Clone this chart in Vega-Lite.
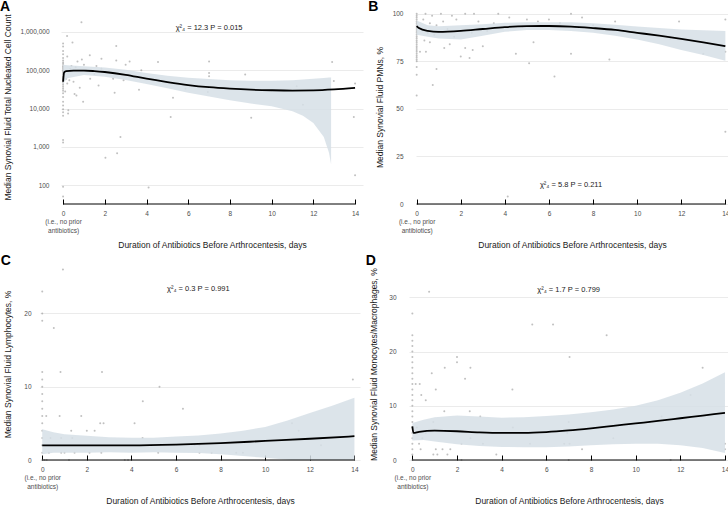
{
  "$schema": "https://vega.github.io/schema/vega-lite/v6.json",
  "padding": {"left": -6, "top": 0, "right": 0, "bottom": 0},
  "background": "white",
  "config": {
    "view": {"stroke": null},
    "font": "Liberation Sans",
    "axis": {"labelFont": "Liberation Sans", "titleFont": "Liberation Sans", "labelFontSize": 6.5, "labelColor": "#4d4d4d", "titleFontSize": 8.5, "titleFontWeight": "normal", "titleColor": "#1a1a1a", "labelOverlap": false},
    "axisX": {"grid": false, "domain": false, "tickColor": "#000000", "tickWidth": 1, "tickSize": -5, "labelPadding": 11, "titlePadding": 7, "labelLineHeight": 8.5, "labelFlush": false},
    "axisY": {"domain": false, "ticks": false, "grid": true, "gridColor": "#ebebeb", "gridWidth": 1, "titlePadding": 8},
    "title": {"font": "Liberation Sans", "fontSize": 14, "fontWeight": "bold", "color": "#000000", "anchor": "start", "frame": "bounds", "offset": -4}
  },
  "datasets": {
    "A_pts": [
      {"x":0,"y":500000},{"x":0,"y":420000},{"x":0,"y":320000},{"x":0,"y":260000},{"x":0,"y":210000},{"x":0,"y":180000},{"x":0,"y":160000},{"x":0,"y":145000},{"x":0,"y":130000},{"x":0,"y":120000},{"x":0,"y":110000},{"x":0,"y":100000},{"x":0,"y":92000},{"x":0,"y":85000},{"x":0,"y":78000},{"x":0,"y":70000},{"x":0,"y":64000},{"x":0,"y":58000},{"x":0,"y":52000},{"x":0,"y":47000},{"x":0,"y":42000},{"x":0,"y":37000},{"x":0,"y":33000},{"x":0,"y":29000},{"x":0,"y":25000},{"x":0,"y":20000},{"x":0,"y":15000},{"x":0,"y":12000},{"x":0,"y":9500},{"x":0,"y":8000},{"x":0,"y":6500},{"x":0,"y":1500},{"x":0,"y":1300},{"x":0,"y":90},{"x":0,"y":50},
      {"x":0.88,"y":1800000},{"x":0.19,"y":780000},{"x":0.45,"y":530000},{"x":2.55,"y":430000},{"x":1.28,"y":245000},{"x":0.9,"y":190000},{"x":0.69,"y":170000},{"x":1.84,"y":200000},{"x":2.55,"y":180000},{"x":3.19,"y":170000},{"x":4.55,"y":165000},{"x":7.0,"y":170000},{"x":12.9,"y":165000},{"x":3.75,"y":100000},{"x":1.84,"y":110000},{"x":2.2,"y":95000},{"x":7.0,"y":85000},{"x":7.0,"y":70000},{"x":8.73,"y":77000},{"x":12.98,"y":52000},{"x":14,"y":45000},{"x":11.2,"y":38000},{"x":5.87,"y":33000},{"x":6.94,"y":27000},{"x":3.64,"y":31000},{"x":2.47,"y":26000},{"x":0.64,"y":22000},{"x":0.96,"y":15000},{"x":5.27,"y":19000},{"x":11.5,"y":12600},{"x":0.24,"y":7400},{"x":5.16,"y":6000},{"x":9.02,"y":5700},{"x":13.94,"y":6000},{"x":2.75,"y":1800},{"x":2.03,"y":520},{"x":2.59,"y":680},{"x":4.1,"y":87},{"x":14,"y":180},
      {"x":0.15,"y":60000},{"x":0.3,"y":55000},{"x":0.5,"y":50000},{"x":0.4,"y":130000},{"x":0.6,"y":120000},{"x":1.0,"y":140000},{"x":1.1,"y":100000},{"x":1.5,"y":80000},{"x":1.6,"y":130000},{"x":0.2,"y":45000},{"x":0.35,"y":110000},{"x":1.3,"y":60000},{"x":2.4,"y":60000},{"x":3.0,"y":140000},{"x":2.9,"y":55000},{"x":1.7,"y":40000},{"x":0.8,"y":35000},{"x":0.1,"y":28000},{"x":0.25,"y":9000},{"x":0.55,"y":24000},{"x":0.2,"y":230000}
    ],
    "A_fit": [
      {"x":0,"fit":50000},{"x":0.05,"fit":88000},{"x":0.15,"fit":95000},{"x":0.5,"fit":98000},{"x":1,"fit":98000},{"x":1.5,"fit":95000},{"x":2,"fit":90000},{"x":3,"fit":76000},{"x":4,"fit":60000},{"x":5,"fit":49000},{"x":6,"fit":41000},{"x":7,"fit":36000},{"x":8,"fit":33000},{"x":9,"fit":31000},{"x":10,"fit":30000},{"x":11,"fit":29500},{"x":12,"fit":29800},{"x":13,"fit":31500},{"x":14,"fit":34500}
    ],
    "A_band": [
      {"x":0,"lo":45000,"hi":140000},{"x":0.2,"lo":62000,"hi":135000},{"x":1,"lo":75000,"hi":128000},{"x":2,"lo":68000,"hi":118000},{"x":3,"lo":56000,"hi":103000},{"x":4,"lo":44000,"hi":85000},{"x":5,"lo":34000,"hi":72000},{"x":6,"lo":26000,"hi":64000},{"x":7,"lo":20500,"hi":59000},{"x":8,"lo":16500,"hi":55000},{"x":9,"lo":13500,"hi":53000},{"x":10,"lo":11500,"hi":53000},{"x":10.45,"lo":10000,"hi":54000},{"x":11,"lo":8500,"hi":55000},{"x":11.5,"lo":6500,"hi":57000},{"x":12,"lo":4200,"hi":60000},{"x":12.5,"lo":1800,"hi":63000},{"x":12.75,"lo":700,"hi":64500},{"x":12.85,"lo":350,"hi":65000}
    ],
    "B_pts": [
      {"x":0,"y":100},{"x":0,"y":99},{"x":0,"y":98},{"x":0,"y":97},{"x":0,"y":96},{"x":0,"y":95},{"x":0,"y":94},{"x":0,"y":93},{"x":0,"y":92},{"x":0,"y":91},{"x":0,"y":90},{"x":0,"y":89},{"x":0,"y":88},{"x":0,"y":87},{"x":0,"y":86},{"x":0,"y":85},{"x":0,"y":84},{"x":0,"y":83},{"x":0,"y":82},{"x":0,"y":81},{"x":0,"y":80},{"x":0,"y":79},{"x":0,"y":78},{"x":0,"y":77},{"x":0,"y":76},{"x":0,"y":75},{"x":0,"y":72},{"x":0,"y":68},{"x":0,"y":57},
      {"x":0.73,"y":62.6},{"x":0.9,"y":71},{"x":6.25,"y":67},{"x":4.13,"y":4},{"x":14,"y":38},{"x":14,"y":80},{"x":14,"y":97},{"x":13,"y":79},{"x":11.5,"y":86.7},{"x":11.9,"y":96},{"x":8.74,"y":76},{"x":7.0,"y":79},{"x":5.1,"y":74},{"x":4.5,"y":79},{"x":5.3,"y":85},{"x":2.54,"y":81},{"x":2.2,"y":82},{"x":2.0,"y":77.5},{"x":1.25,"y":82},{"x":0.42,"y":80},{"x":0.15,"y":80},{"x":2.4,"y":76.7},
      {"x":0.4,"y":100},{"x":0.7,"y":99},{"x":1.1,"y":100},{"x":1.6,"y":99},{"x":2.2,"y":100},{"x":2.6,"y":100},{"x":3.7,"y":100},{"x":7.0,"y":100},{"x":7.5,"y":98},{"x":0.3,"y":97},{"x":0.6,"y":95},{"x":0.9,"y":94},{"x":1.2,"y":96},{"x":1.8,"y":97},{"x":2.8,"y":96},{"x":3.5,"y":95},{"x":4.2,"y":98},{"x":5.0,"y":97},{"x":6.0,"y":97},{"x":9.0,"y":96},{"x":0.2,"y":92},{"x":0.5,"y":90},{"x":0.8,"y":89},{"x":1.0,"y":91},{"x":1.4,"y":92},{"x":1.7,"y":88},{"x":2.5,"y":90},{"x":3.2,"y":91},{"x":4.8,"y":93},{"x":5.5,"y":96},{"x":6.5,"y":95},{"x":7.2,"y":93},{"x":8.0,"y":94},{"x":0.35,"y":86},{"x":0.6,"y":85},{"x":1.5,"y":84},{"x":3.0,"y":83}
    ],
    "B_fit": [
      {"x":0,"fit":93.5},{"x":0.1,"fit":92.5},{"x":0.5,"fit":91},{"x":1,"fit":90.5},{"x":2,"fit":91},{"x":3,"fit":92},{"x":4,"fit":93},{"x":5,"fit":93.5},{"x":6,"fit":93.6},{"x":7,"fit":93.3},{"x":8,"fit":92.5},{"x":9,"fit":91.5},{"x":10,"fit":90},{"x":11,"fit":88.5},{"x":12,"fit":86.8},{"x":13,"fit":85},{"x":14,"fit":83}
    ],
    "B_band": [
      {"x":0,"lo":89,"hi":96.5},{"x":0.5,"lo":88,"hi":94},{"x":1,"lo":87,"hi":93.5},{"x":2,"lo":86.5,"hi":94},{"x":3,"lo":88.5,"hi":94.5},{"x":4,"lo":90.5,"hi":95.3},{"x":5,"lo":91.5,"hi":95.5},{"x":6,"lo":91.5,"hi":95.6},{"x":7,"lo":91,"hi":95.5},{"x":8,"lo":90,"hi":95},{"x":9,"lo":88.5,"hi":94.3},{"x":10,"lo":86.5,"hi":93.3},{"x":11,"lo":84,"hi":92.5},{"x":12,"lo":81,"hi":91.8},{"x":13,"lo":78.3,"hi":91.3},{"x":14,"lo":75.3,"hi":91}
    ],
    "C_pts": [
      {"x":0,"y":23},{"x":0,"y":20},{"x":0,"y":19},{"x":0,"y":12},{"x":0,"y":11},{"x":0,"y":10},{"x":0,"y":9},{"x":0,"y":8},{"x":0,"y":7},{"x":0,"y":6},{"x":0,"y":5},{"x":0,"y":4},{"x":0,"y":3},{"x":0,"y":2},{"x":0,"y":1},{"x":0,"y":0},
      {"x":0.93,"y":26},{"x":0.52,"y":18},{"x":0.82,"y":12},{"x":2.68,"y":12},{"x":1.75,"y":6},{"x":0.78,"y":6},{"x":0.18,"y":6},{"x":5.26,"y":10},{"x":4.51,"y":8},{"x":6.31,"y":7},{"x":4.14,"y":5},{"x":2.6,"y":5},{"x":2.75,"y":5},{"x":13.93,"y":11},{"x":11.2,"y":5},{"x":11.5,"y":4},{"x":12.5,"y":2},{"x":1.3,"y":4},{"x":2.35,"y":4},{"x":2.0,"y":4},{"x":4.5,"y":3},{"x":0.85,"y":3},{"x":0.37,"y":3},{"x":1.35,"y":3},
      {"x":0.85,"y":1},{"x":1.0,"y":1},{"x":1.45,"y":1},{"x":2.12,"y":1},{"x":2.65,"y":1},{"x":5.2,"y":1},{"x":7.6,"y":1},{"x":8.7,"y":1},{"x":9.0,"y":1},{"x":7.05,"y":1},{"x":0.3,"y":1},{"x":0.2,"y":0},{"x":1.2,"y":0},{"x":3.7,"y":0},{"x":3.85,"y":0},{"x":6.83,"y":2},{"x":7.05,"y":2},{"x":0.1,"y":0}
    ],
    "C_fit": [
      {"x":0,"fit":2.0},{"x":2,"fit":2.0},{"x":4,"fit":2.0},{"x":6,"fit":2.1},{"x":8,"fit":2.3},{"x":10,"fit":2.6},{"x":12,"fit":2.9},{"x":14,"fit":3.25}
    ],
    "C_band": [
      {"x":0,"lo":0.8,"hi":4.2},{"x":0.5,"lo":1.0,"hi":3.8},{"x":1,"lo":1.0,"hi":3.5},{"x":2,"lo":1.0,"hi":3.3},{"x":3,"lo":1.05,"hi":3.1},{"x":4,"lo":1.0,"hi":3.05},{"x":5,"lo":1.05,"hi":3.05},{"x":6,"lo":1.0,"hi":3.2},{"x":7,"lo":0.95,"hi":3.35},{"x":8,"lo":0.8,"hi":3.6},{"x":9,"lo":0.55,"hi":4.0},{"x":10,"lo":0.3,"hi":4.5},{"x":11,"lo":0.05,"hi":5.4},{"x":11.2,"lo":0,"hi":5.6},{"x":12,"lo":0,"hi":6.4},{"x":13,"lo":0,"hi":7.4},{"x":14,"lo":0,"hi":8.5}
    ],
    "D_pts": [
      {"x":0,"y":27},{"x":0,"y":23},{"x":0,"y":22},{"x":0,"y":21},{"x":0,"y":20},{"x":0,"y":19},{"x":0,"y":18},{"x":0,"y":17},{"x":0,"y":16},{"x":0,"y":15},{"x":0,"y":14},{"x":0,"y":13},{"x":0,"y":12},{"x":0,"y":11},{"x":0,"y":10},{"x":0,"y":9},{"x":0,"y":8},{"x":0,"y":7},{"x":0,"y":6},{"x":0,"y":5},{"x":0,"y":4},{"x":0,"y":3},{"x":0,"y":2},{"x":0,"y":1},{"x":0,"y":0},
      {"x":0.75,"y":31},{"x":5.37,"y":25},{"x":6.3,"y":25},{"x":8.7,"y":23},{"x":7.04,"y":19},{"x":2.0,"y":19},{"x":2.0,"y":18},{"x":2.6,"y":17},{"x":1.45,"y":17},{"x":2.36,"y":15},{"x":13.0,"y":17},{"x":0.87,"y":16},{"x":0.33,"y":14},{"x":0.15,"y":14},{"x":0.6,"y":11},{"x":0.4,"y":12},{"x":4.48,"y":13},{"x":1.05,"y":13},{"x":1.43,"y":9},{"x":2.57,"y":9},{"x":12.46,"y":12},{"x":11.16,"y":8},{"x":3.04,"y":8},{"x":7.0,"y":7},{"x":4.5,"y":6},{"x":0.94,"y":7},{"x":6.94,"y":5},{"x":9.0,"y":4},{"x":2.6,"y":4},{"x":3.16,"y":3},{"x":5.27,"y":3},{"x":6.8,"y":3},{"x":7.04,"y":3},{"x":2.2,"y":3},{"x":0.3,"y":3},{"x":0.45,"y":4},{"x":0.37,"y":2},{"x":1.05,"y":2},{"x":1.35,"y":2},{"x":1.7,"y":2},{"x":3.76,"y":1},{"x":0.94,"y":1},{"x":1.12,"y":1},{"x":1.57,"y":1},{"x":11.57,"y":0},{"x":7.6,"y":2},{"x":14,"y":3},{"x":14,"y":2},{"x":7.0,"y":0},{"x":2.2,"y":0},{"x":0.2,"y":6},{"x":0.6,"y":5}
    ],
    "D_fit": [
      {"x":0,"fit":6.2},{"x":0.05,"fit":5.0},{"x":0.3,"fit":5.2},{"x":1,"fit":5.4},{"x":2,"fit":5.3},{"x":3,"fit":5.1},{"x":4,"fit":5.0},{"x":5,"fit":5.0},{"x":6,"fit":5.15},{"x":7,"fit":5.45},{"x":8,"fit":5.85},{"x":9,"fit":6.3},{"x":10,"fit":6.75},{"x":11,"fit":7.2},{"x":12,"fit":7.7},{"x":13,"fit":8.2},{"x":14,"fit":8.7}
    ],
    "D_band": [
      {"x":0,"lo":3.6,"hi":6.8},{"x":0.5,"lo":3.7,"hi":7.4},{"x":1,"lo":3.4,"hi":7.9},{"x":2,"lo":2.9,"hi":8.2},{"x":3,"lo":2.6,"hi":8.0},{"x":4,"lo":2.4,"hi":7.8},{"x":5,"lo":2.35,"hi":7.9},{"x":6,"lo":2.35,"hi":8.1},{"x":7,"lo":2.5,"hi":8.4},{"x":8,"lo":2.7,"hi":8.8},{"x":9,"lo":2.9,"hi":9.3},{"x":10,"lo":3.0,"hi":10.0},{"x":11,"lo":3.0,"hi":11.0},{"x":12,"lo":2.7,"hi":12.4},{"x":13,"lo":2.2,"hi":14.1},{"x":14,"lo":1.3,"hi":16.2}
    ],
    "notes": [
      {"panel":"A","t":"χ²₄ = 12.3  P = 0.015"},
      {"panel":"B","t":"χ²₄ = 5.8  P = 0.211"},
      {"panel":"C","t":"χ²₄ = 0.3  P = 0.991"},
      {"panel":"D","t":"χ²₄ = 1.7  P = 0.799"}
    ],
    "xline": [{"from": 0, "to": 14}]
  },
  "spacing": 4,
  "vconcat": [
    {
      "spacing": 5,
      "hconcat": [
        {"width": 1, "height": 1, "data": {"values": []}, "mark": {"type": "point", "opacity": 0}},
        {
          "width": 302, "height": 194,
          "title": {"text": "A", "dx": -3},
          "layer": [
            {"data": {"name": "A_pts"}, "mark": {"type": "circle", "size": 4, "color": "#8c8c8c", "opacity": 0.55},
             "encoding": {
               "x": {"field": "x", "type": "quantitative", "scale": {"domain": [-0.1, 14.38], "nice": false, "zero": false},
                     "axis": {"values": [0,2,4,6,8,10,12,14], "labelExpr": "datum.value == 0 ? ['0','(i.e., no prior','antibiotics)'] : datum.label", "title": "Duration of Antibiotics Before Arthrocentesis, days"}},
               "y": {"field": "y", "type": "quantitative", "scale": {"type": "log", "domain": [32, 3750000], "nice": false},
                     "axis": {"values": [100, 1000, 10000, 100000, 1000000], "format": ",", "labelPadding": 12, "labelOverlap": false, "title": "Median Synovial Fluid Total Nucleated Cell Count"}}
             }},
            {"data": {"name": "A_band"}, "mark": {"type": "area", "color": "#d6dfe6", "opacity": 0.85},
             "encoding": {"x": {"field": "x", "type": "quantitative"}, "y": {"field": "lo", "type": "quantitative"}, "y2": {"field": "hi"}}},
            {"data": {"name": "A_fit"}, "mark": {"type": "line", "color": "#000000", "strokeWidth": 1.8, "interpolate": "monotone"},
             "encoding": {"x": {"field": "x", "type": "quantitative"}, "y": {"field": "fit", "type": "quantitative"}}},
            {"data": {"name": "xline"}, "mark": {"type": "rule", "color": "#000000", "strokeWidth": 1},
             "encoding": {"x": {"field": "from", "type": "quantitative"}, "x2": {"field": "to"}, "y": {"datum": 32}}},
            {"data": {"name": "notes"}, "transform": [{"filter": "datum.panel == 'A'"}],
             "mark": {"type": "text", "fontSize": 7.5, "color": "#1a1a1a", "baseline": "middle"},
             "encoding": {"x": {"datum": 7}, "y": {"datum": 1250000}, "text": {"field": "t"}}}
          ]
        },
        {
          "width": 312, "height": 194,
          "title": {"text": "B", "dx": -7.5},
          "layer": [
            {"data": {"name": "B_pts"}, "mark": {"type": "circle", "size": 4, "color": "#8c8c8c", "opacity": 0.55},
             "encoding": {
               "x": {"field": "x", "type": "quantitative", "scale": {"domain": [-0.03, 14.12], "nice": false, "zero": false},
                     "axis": {"values": [0,2,4,6,8,10,12,14], "labelExpr": "datum.value == 0 ? ['0','(i.e., no prior','antibiotics)'] : datum.label", "title": "Duration of Antibiotics Before Arthrocentesis, days"}},
               "y": {"field": "y", "type": "quantitative", "scale": {"domain": [0, 102], "nice": false},
                     "axis": {"values": [0, 25, 50, 75, 100], "labelPadding": 13, "titlePadding": 7.5, "labelOverlap": false, "title": "Median Synovial Fluid PMNs, %"}}
             }},
            {"data": {"name": "B_band"}, "mark": {"type": "area", "color": "#d6dfe6", "opacity": 0.85},
             "encoding": {"x": {"field": "x", "type": "quantitative"}, "y": {"field": "lo", "type": "quantitative"}, "y2": {"field": "hi"}}},
            {"data": {"name": "B_fit"}, "mark": {"type": "line", "color": "#000000", "strokeWidth": 1.8, "interpolate": "monotone"},
             "encoding": {"x": {"field": "x", "type": "quantitative"}, "y": {"field": "fit", "type": "quantitative"}}},
            {"data": {"name": "xline"}, "mark": {"type": "rule", "color": "#000000", "strokeWidth": 1},
             "encoding": {"x": {"field": "from", "type": "quantitative"}, "x2": {"field": "to"}, "y": {"datum": 0}}},
            {"data": {"name": "notes"}, "transform": [{"filter": "datum.panel == 'B'"}],
             "mark": {"type": "text", "fontSize": 7.5, "color": "#1a1a1a", "baseline": "middle"},
             "encoding": {"x": {"datum": 7}, "y": {"datum": 10}, "text": {"field": "t"}}}
          ]
        }
      ]
    },
    {
      "spacing": 5,
      "hconcat": [
        {"width": 1, "height": 1, "data": {"values": []}, "mark": {"type": "point", "opacity": 0}},
        {
          "width": 320, "height": 192,
          "title": {"text": "C", "dx": -3, "offset": 0},
          "layer": [
            {"data": {"name": "C_pts"}, "mark": {"type": "circle", "size": 4, "color": "#8c8c8c", "opacity": 0.55},
             "encoding": {
               "x": {"field": "x", "type": "quantitative", "scale": {"domain": [-0.1, 14.25], "nice": false, "zero": false},
                     "axis": {"values": [0,2,4,6,8,10,12,14], "labelExpr": "datum.value == 0 ? ['0','(i.e., no prior','antibiotics)'] : datum.label", "title": "Duration of Antibiotics Before Arthrocentesis, days"}},
               "y": {"field": "y", "type": "quantitative", "scale": {"domain": [0, 26.2], "nice": false},
                     "axis": {"values": [0, 5, 10, 15, 20, 25], "labelPadding": 9, "titlePadding": 11, "labelOverlap": false, "title": "Median Synovial Fluid Lymphocytes, %"}}
             }},
            {"data": {"name": "C_band"}, "mark": {"type": "area", "color": "#d6dfe6", "opacity": 0.85},
             "encoding": {"x": {"field": "x", "type": "quantitative"}, "y": {"field": "lo", "type": "quantitative"}, "y2": {"field": "hi"}}},
            {"data": {"name": "C_fit"}, "mark": {"type": "line", "color": "#000000", "strokeWidth": 1.8, "interpolate": "monotone"},
             "encoding": {"x": {"field": "x", "type": "quantitative"}, "y": {"field": "fit", "type": "quantitative"}}},
            {"data": {"name": "xline"}, "mark": {"type": "rule", "color": "#000000", "strokeWidth": 1},
             "encoding": {"x": {"field": "from", "type": "quantitative"}, "x2": {"field": "to"}, "y": {"datum": 0}}},
            {"data": {"name": "notes"}, "transform": [{"filter": "datum.panel == 'C'"}],
             "mark": {"type": "text", "fontSize": 7.5, "color": "#1a1a1a", "baseline": "middle"},
             "encoding": {"x": {"datum": 7}, "y": {"datum": 23.3}, "text": {"field": "t"}}}
          ]
        },
        {
          "width": 320, "height": 192,
          "title": {"text": "D", "dx": -4, "offset": 0},
          "layer": [
            {"data": {"name": "D_pts"}, "mark": {"type": "circle", "size": 4, "color": "#8c8c8c", "opacity": 0.55},
             "encoding": {
               "x": {"field": "x", "type": "quantitative", "scale": {"domain": [-0.15, 14.18], "nice": false, "zero": false},
                     "axis": {"values": [0,2,4,6,8,10,12,14], "labelExpr": "datum.value == 0 ? ['0','(i.e., no prior','antibiotics)'] : datum.label", "title": "Duration of Antibiotics Before Arthrocentesis, days"}},
               "y": {"field": "y", "type": "quantitative", "scale": {"domain": [0, 35.4], "nice": false},
                     "axis": {"values": [0, 10, 20, 30], "labelPadding": 13, "titlePadding": 10, "labelOverlap": false, "title": "Median Synovial Fluid Monocytes/Macrophages, %"}}
             }},
            {"data": {"name": "D_band"}, "mark": {"type": "area", "color": "#d6dfe6", "opacity": 0.85},
             "encoding": {"x": {"field": "x", "type": "quantitative"}, "y": {"field": "lo", "type": "quantitative"}, "y2": {"field": "hi"}}},
            {"data": {"name": "D_fit"}, "mark": {"type": "line", "color": "#000000", "strokeWidth": 1.8, "interpolate": "monotone"},
             "encoding": {"x": {"field": "x", "type": "quantitative"}, "y": {"field": "fit", "type": "quantitative"}}},
            {"data": {"name": "xline"}, "mark": {"type": "rule", "color": "#000000", "strokeWidth": 1},
             "encoding": {"x": {"field": "from", "type": "quantitative"}, "x2": {"field": "to"}, "y": {"datum": 0}}},
            {"data": {"name": "notes"}, "transform": [{"filter": "datum.panel == 'D'"}],
             "mark": {"type": "text", "fontSize": 7.5, "color": "#1a1a1a", "baseline": "middle"},
             "encoding": {"x": {"datum": 7}, "y": {"datum": 31.4}, "text": {"field": "t"}}}
          ]
        }
      ]
    }
  ]
}
